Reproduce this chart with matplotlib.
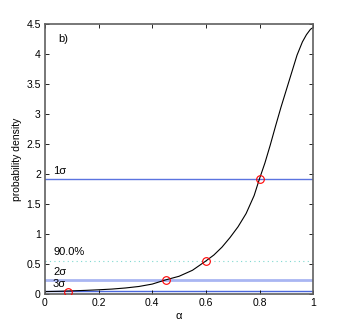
import matplotlib
matplotlib.use("Agg")
import matplotlib.pyplot as plt
from matplotlib.ticker import FormatStrFormatter

plt.rcParams["font.family"] = ["Liberation Sans", "DejaVu Sans"]

# posterior density curve
alpha = [0.00, 0.05, 0.10, 0.15, 0.20, 0.25, 0.30, 0.35, 0.40, 0.45,
         0.50, 0.55, 0.60, 0.63, 0.66, 0.69, 0.72, 0.75, 0.78, 0.80,
         0.82, 0.84, 0.86, 0.88, 0.90, 0.92, 0.94, 0.96, 0.975, 0.99, 1.00]
density = [0.040, 0.045, 0.052, 0.060, 0.070, 0.082, 0.100, 0.125, 0.165, 0.235,
           0.295, 0.395, 0.550, 0.650, 0.780, 0.940, 1.120, 1.340, 1.640, 1.920,
           2.180, 2.480, 2.800, 3.110, 3.400, 3.690, 3.980, 4.200, 4.320, 4.410, 4.440]

# confidence levels
levels = [1.92, 0.24, 0.045]
level_names = ["1\u03c3", "2\u03c3", "3\u03c3"]
level_colors = ["#5b73e0", "#a9b6f2", "#4a66dc"]
level_widths = [1.0, 2.0, 1.0]
pct_level = 0.55
pct_name = "90.0%"

# marked crossings
cross_x = [0.085, 0.45, 0.60, 0.80]
cross_y = [0.04, 0.235, 0.55, 1.92]

fig = plt.figure(figsize=(3.46, 3.32), dpi=100)
ax = fig.add_axes([0.130, 0.1145, 0.775, 0.8135])

for lv, nm, c, w in zip(levels, level_names, level_colors, level_widths):
    ax.axhline(lv, color=c, lw=w, zorder=1)
    ax.text(0.03, lv + 0.04, nm, fontsize=8, va="bottom", ha="left")
ax.axhline(pct_level, color="#7fd8d0", lw=0.8, ls=(0, (1, 3)), zorder=1)
ax.text(0.03, pct_level + 0.06, pct_name, fontsize=8, va="bottom", ha="left")

ax.plot(alpha, density, color="black", lw=0.8, zorder=2)
ax.plot(cross_x, cross_y, "o", mfc="none", mec="red", ms=5.5, mew=0.8, zorder=3)

ax.text(0.05, 4.2, "b)", fontsize=8)

ax.set_xlim(0, 1)
ax.set_ylim(0, 4.5)
ax.set_xticks([0, 0.2, 0.4, 0.6, 0.8, 1])
ax.set_yticks([0, 0.5, 1, 1.5, 2, 2.5, 3, 3.5, 4, 4.5])
ax.xaxis.set_major_formatter(FormatStrFormatter("%g"))
ax.yaxis.set_major_formatter(FormatStrFormatter("%g"))
ax.tick_params(direction="in", top=True, right=True, labelsize=7.5, length=3, width=0.6, pad=3)
for sp in ax.spines.values():
    sp.set_color("#606060")
    sp.set_linewidth(1.2)

ax.set_xlabel("\u03b1", fontsize=8, labelpad=2)
ax.set_ylabel("probability density", fontsize=7.5, labelpad=3)

fig.savefig("out.png", dpi=100)
